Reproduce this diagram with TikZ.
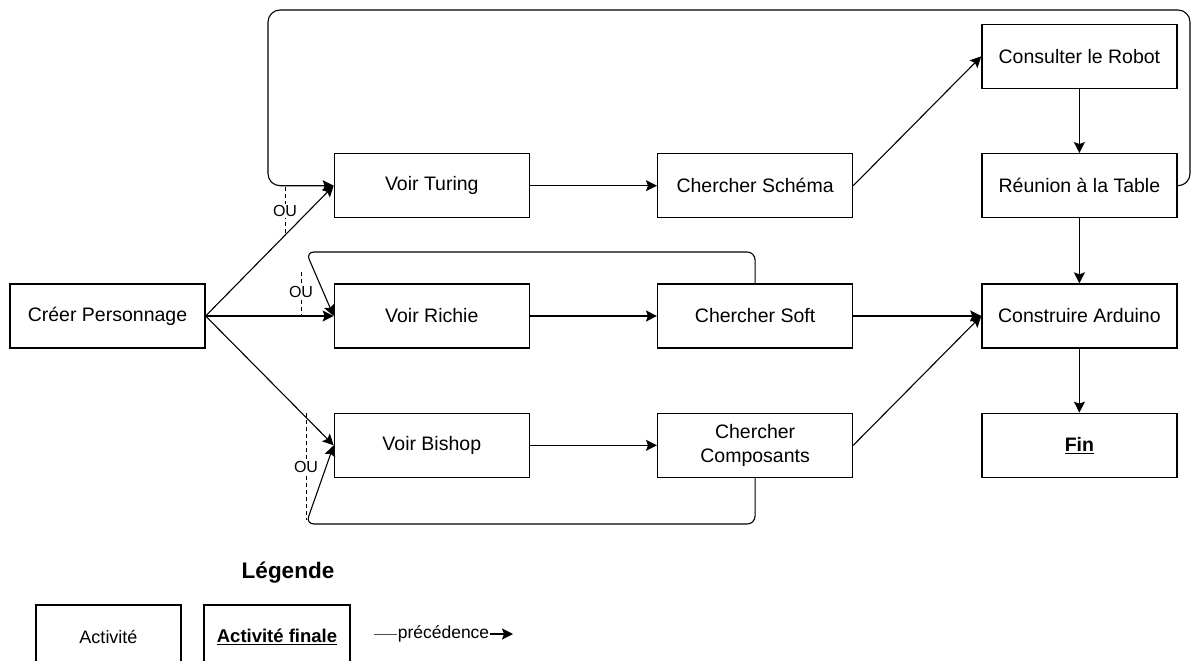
\documentclass[tikz,border=0pt]{standalone}
\usepackage{fontspec}
\setmainfont{Liberation Sans}
\usetikzlibrary{positioning, arrows.meta}

\begin{document}
\begin{tikzpicture}[x=1pt, y=-1pt,
    activity/.style={draw, line width=1.3pt, minimum width=195pt, minimum height=64pt, align=center, font=\fontsize{19.5}{24}\selectfont},
    prec/.style={line width=1.1pt, -{Stealth[length=11pt, width=11pt, inset=2pt]}},
    choice/.style={line width=1pt, dash pattern=on 4pt off 3pt},
    oulabel/.style={fill=white, inner sep=1pt, font=\fontsize{16}{18}\selectfont}]
    \fill [white] (0,0) rectangle (1197,661);
    \useasboundingbox (0,0) rectangle (1197,661);
    % Activities
    \node (cp) [activity] at (107.5,316) {Créer Personnage};
    \node (vr) [activity, right=128pt of cp] {Voir Richie};
    \node (vt) [activity, above=65pt of vr] {Voir Turing};
    \node (vb) [activity, below=64pt of vr] {Voir Bishop};
    \node (cs) [activity, right=127pt of vt] {Chercher Schéma};
    \node (cso) [activity, right=127pt of vr] {Chercher Soft};
    \node (cc) [activity, right=127pt of vb] {Chercher\\Composants};
    \node (ca) [activity, right=128pt of cso] {Construire Arduino};
    \node (rt) [activity, above=65pt of ca] {Réunion à la Table};
    \node (cr) [activity, above=64pt of rt] {Consulter le Robot};
    \node (fin) [activity, below=64pt of ca] {\underline{\textbf{Fin}}};
    % Precedences
    \draw [prec] (cp.east) -- (vt.west);
    \draw [prec] (cp.east) -- (vr.west);
    \draw [prec] (cp.east) -- (vb.west);
    \draw [prec] (vt) -- (cs);
    \draw [prec] (vr) -- (cso);
    \draw [prec] (vb) -- (cc);
    \draw [prec] (cs.east) -- (cr.west);
    \draw [prec] (cso.east) -- (ca.west);
    \draw [prec] (cc.east) -- (ca.west);
    \draw [prec, line width=1.4pt] (cr) -- (rt);
    \draw [prec, line width=1.4pt] (rt) -- (ca);
    \draw [prec, line width=1.4pt] (ca) -- (fin);
    % Loops back
    \coordinate (loopTR) at (1190,10);
    \coordinate (loopTL) at (268,10);
    \draw [prec, rounded corners=12pt] (rt.east) -| (loopTR) -- (loopTL) |- (vt.west);
    \coordinate (softL) at (306,252);
    \draw [prec, rounded corners=8pt] (cso.north) |- (softL) -- (vr.west);
    \coordinate (compL) at (306,524);
    \draw [prec, rounded corners=8pt] (cc.south) |- (compL) -- (vb.west);
    % OU
    \draw [choice] (285,187) -- (285,235) node [oulabel, midway] (ou1) {OU};
    \draw [choice] (301,272) -- (301,316) node [oulabel, pos=0.45] (ou2) {OU};
    \draw [choice] (306,413) -- (306,520) node [oulabel, midway] (ou3) {OU};
    % Legend
    \node (leg) [font=\bfseries\fontsize{22.5}{26}\selectfont] at (288,573) {Légende};
    \node (la) [activity, minimum width=145pt, font=\fontsize{18}{21}\selectfont] at (108.5,637) {Activité};
    \node (laf) [activity, minimum width=146pt, font=\fontsize{18.5}{21}\selectfont] at (277,637) {\underline{\textbf{Activité finale}}};
    \node (lp) [inner sep=1pt, font=\fontsize{17.5}{20}\selectfont] at (443.5,634) {précédence};
    \coordinate (lpA) at (374,634);
    \coordinate (lpB) at (513,634);
    \draw [line width=1pt, black!70] (lpA) -- (lp.west);
    \draw [prec] (lp.east) -- (lpB);
\end{tikzpicture}
\end{document}
